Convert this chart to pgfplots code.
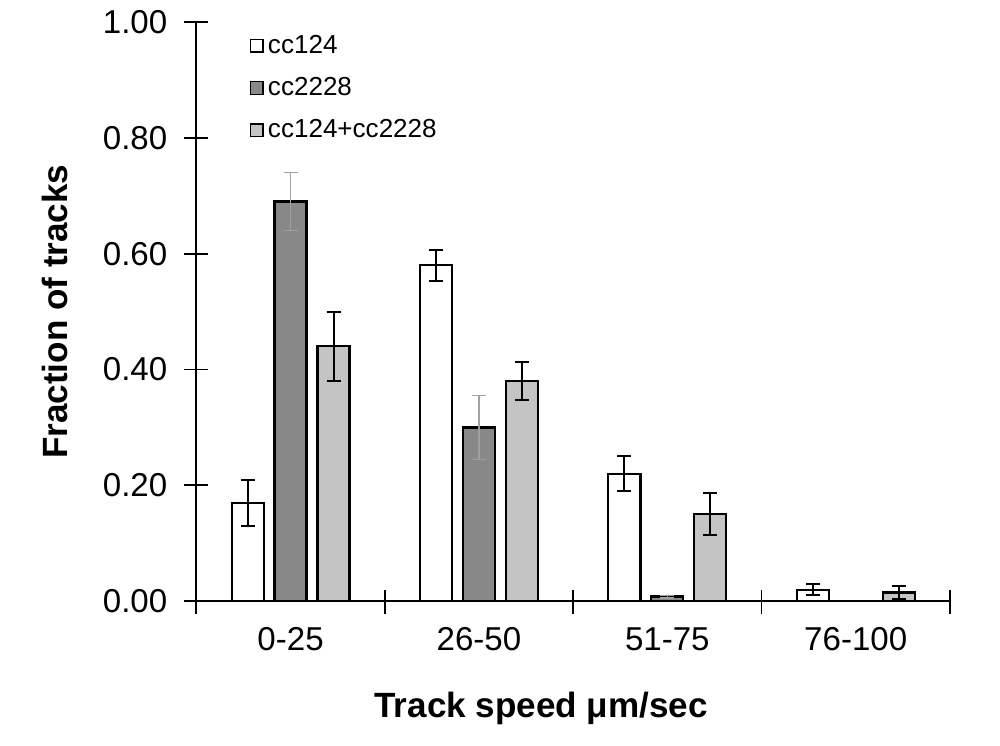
\documentclass[border=0pt]{standalone}
\usepackage{fontspec}
\setmainfont{Liberation Sans}
\usepackage{pgfplots}
\pgfplotsset{compat=1.18}
\definecolor{darkbar}{RGB}{136,136,136}
\definecolor{lightbar}{RGB}{196,196,196}
\definecolor{darkerr}{RGB}{160,160,160}
\begin{document}
\begin{tikzpicture}
\begin{axis}[
    scale only axis,
    width=376pt, height=289pt,
    xmin=-0.5, xmax=3.5,
    ymin=0, ymax=1,
    axis lines*=left,
    axis line style={line width=0.9pt},
    % category boundaries carry the ticks, names sit at the centres
    xtick={-0.5,0.5,1.5,2.5,3.5},
    xticklabels={},
    x tick style={yshift=5.5pt},
    extra x ticks={0,1,2,3},
    extra x tick labels={0-25,26-50,51-75,76-100},
    extra x tick style={major tick length=0pt, xticklabel style={yshift=-9.5pt}},
    ytick={0,0.2,...,1.0},
    major tick length=12pt,
    tick align=center,
    tick style={line width=0.9pt, black},
    yticklabel style={/pgf/number format/fixed, /pgf/number format/fixed zerofill,
        /pgf/number format/precision=2, xshift=-5pt},
    /pgf/number format/assume math mode=true,
    ticklabel style={font=\fontsize{16.5}{19}\selectfont},
    xlabel={\textbf{Track speed μm/sec}},
    ylabel={\textbf{Fraction of tracks}},
    label style={font=\fontsize{17.5}{20}\selectfont},
    xlabel style={yshift=-2pt, xshift=-16pt},
    ylabel style={yshift=10.5pt},
    ybar, bar width=0.17,
    legend style={at={(0.07,0.985)}, anchor=north west, draw=none, fill=none,
        font=\fontsize{13}{15}\selectfont, row sep=6.5pt, inner sep=0pt},
    legend cell align=left,
    legend image code/.code={\draw[#1, line width=0.8pt] (0pt,-3.2pt) rectangle (6.4pt,3.2pt);},
    error bars/y dir=both, error bars/y explicit,
]
\addplot[bar shift=-0.228, fill=white, draw=black, line width=1.1pt,
    error bars/error bar style={black, line width=1pt},
    error bars/error mark options={rotate=90, mark size=3.5pt, line width=1pt, black}]
coordinates {
    (0,0.17) +- (0,0.04)
    (1,0.58) +- (0,0.027)
    (2,0.22) +- (0,0.03)
    (3,0.02) +- (0,0.01)
};
\addplot[bar shift=0, fill=darkbar, draw=black, line width=1.1pt,
    error bars/error bar style={darkerr, line width=0.8pt},
    error bars/error mark options={rotate=90, mark size=3.5pt, line width=0.8pt, darkerr}]
coordinates {
    (0,0.69) +- (0,0.05)
    (1,0.30) +- (0,0.055)
    (2,0.008) +- (0,0.002)
};
\addplot[bar shift=0.228, fill=lightbar, draw=black, line width=1.1pt,
    error bars/error bar style={black, line width=1pt},
    error bars/error mark options={rotate=90, mark size=3.5pt, line width=1pt, black}]
coordinates {
    (0,0.44) +- (0,0.06)
    (1,0.38) +- (0,0.033)
    (2,0.15) +- (0,0.036)
    (3,0.015) +- (0,0.011)
};
\legend{cc124,cc2228,cc124+cc2228}
\end{axis}
% white margins as in the reference
\path (current axis.south east) ++(25pt,-72pt);
\path (current axis.north east) ++(0,11pt);
\path (current axis.south west) ++(-98pt,0);
\end{tikzpicture}
\end{document}
